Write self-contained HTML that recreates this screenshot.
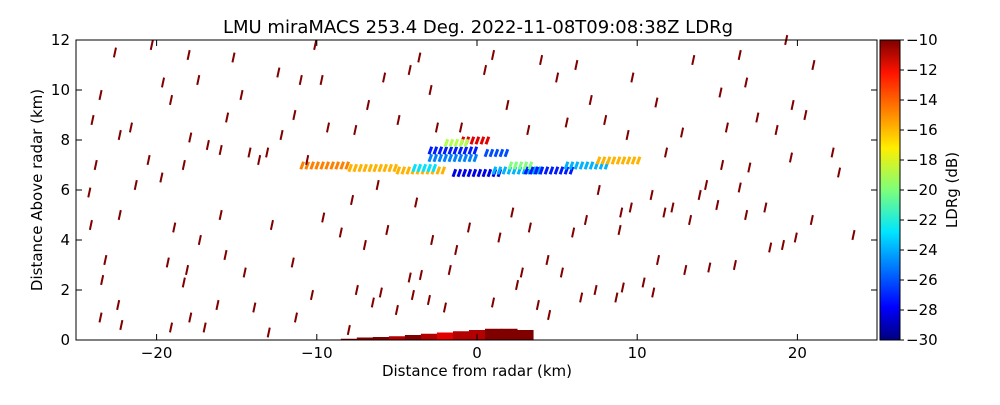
<!DOCTYPE html>
<html><head><meta charset="utf-8"><style>
body{margin:0;background:#fff}
svg text{font-family:"DejaVu Sans","Liberation Sans",sans-serif}
</style></head><body>
<svg id="c" width="1000" height="400" xmlns="http://www.w3.org/2000/svg">
<defs><linearGradient id="jet" x1="0" y1="1" x2="0" y2="0">
<stop offset="0" stop-color="#00007f"/><stop offset="0.11" stop-color="#0000ff"/><stop offset="0.36" stop-color="#00e5ff"/><stop offset="0.5" stop-color="#7dff7a"/><stop offset="0.64" stop-color="#ffee00"/><stop offset="0.89" stop-color="#ff1300"/><stop offset="1" stop-color="#7f0000"/></linearGradient></defs>
<text x="478" y="33" font-size="18" text-anchor="middle">LMU miraMACS 253.4 Deg. 2022-11-08T09:08:38Z  LDRg</text>
<g id="marks"></g>
<rect x="76" y="40" width="801" height="300" fill="none" stroke="#000"/>
<g id="axes"></g>
<rect x="880" y="40" width="20" height="300" fill="url(#jet)" stroke="#000"/>
<text transform="translate(957,190) rotate(-90)" font-size="15" text-anchor="middle">LDRg (dB)</text>
<text x="477" y="376" font-size="15" text-anchor="middle">Distance from radar (km)</text>
<text transform="translate(42,190) rotate(-90)" font-size="15" text-anchor="middle">Distance Above radar  (km)</text>
</svg>
<script>
const xTicks=[-20,-10,0,10,20];
const yTicks=[0,2,4,6,8,10,12];
const cbTicks=[-10,-12,-14,-16,-18,-20,-22,-24,-26,-28,-30];
const clutterX=[-23.5,-24,-22.3,-23.8,-24.2,-22.3,-24.1,-23.2,-23.4,-22.4,-23.5,-22.2,-21.6,-20.3,-19.6,-19.1,-18,-17.4,-18.3,-19.7,-18.9,-19.3,-18.3,-17.9,-17,-16.2,-17.3,-16,-17.9,-16.8,-16,-15.6,-15.2,-14.7,-14.2,-15.7,-14.5,-13.9,-13,-13.6,-13.1,-12.2,-11.4,-12.4,-11,-10.1,-9.7,-9.3,-10.6,-12.8,-11.5,-10.3,-11.3,-9.6,-8.5,-7.8,-7,-7.5,-8,-6.5,-5.6,-6.2,-7.6,-6.8,-4.9,-5.8,-4.2,-3.6,-2.9,-2.5,-1,0.5,1,1.9,3.2,4,5,6.2,7.1,8,9.4,9.7,11.2,11.8,12.8,13.5,15.2,16.8,17.5,18.7,19.7,20.5,21,19.3,16.4,15.6,15.3,16.4,17,19.6,22.2,22.6,14.3,13.9,11.7,12.2,13.3,15,16.8,18,19.1,19.9,20.9,23.5,18.3,16.1,14.5,13,11.3,10.4,11,9.1,8.7,7.4,8.9,9,9.6,10.9,6.8,6,5.3,4.4,3.3,2.8,2.2,1.4,-0.5,-1.3,-2.8,-3.8,-4.2,-3,-1.7,5.6,7.6,-20.5,-21.3,-22.6,-18.1,-19.1,-5,-4,-2,1,2.5,4.5,-6,-3.5,3.8,6.5];
const clutterY=[9.8,8.8,8.2,7,5.9,5,4.6,3.2,2.4,1.4,0.9,0.6,8.5,11.8,10.3,9.6,11.4,10.4,7,6.5,4.5,3.1,2.3,0.9,0.5,1.4,4,5,8.1,7.8,7.6,8.9,11.3,9.8,7.5,3.4,2.7,1.3,0.3,7.2,7.5,8.2,9,10.7,10.4,11.8,10.4,8.5,7.2,4.6,3.1,1.8,0.9,4.9,4.3,5.6,3.8,2,0.4,1.5,4.4,6.2,8.4,9.4,8.8,10.5,10.8,11.3,10,8.5,8.5,10.8,11.4,9.4,8.4,11.2,10.5,11,9.6,8.8,8.2,10.5,9.5,7.5,8.3,11.2,9.9,10.3,8.9,8.4,9.4,9,11,12,11.4,8.5,7,6.1,6.9,7.3,7.5,6.7,6.2,5.8,5.1,5.3,4.8,5.4,5,5.3,3.8,4.1,4.8,4.2,3.7,3,2.9,2.8,3.2,2.3,1.9,2.1,1.7,2,4.4,5.1,5.3,5.8,4.8,4.3,2.7,3.2,4.5,2.7,5.1,4.1,4.5,3.6,4,5.5,2.5,1.6,2.8,8.7,6,7.2,6.2,11.5,2.8,0.5,1.2,1.8,1.3,1.5,2.2,1,1.9,2.6,1.4,1.7];
const layerX0=[-11,-8,-5,-3,-3,-1.5,1,3,5.5,7.5,-1,-2,0.5,-4,2];
const layerX1=[-8,-5,-2,0,0,1.5,4,6,8,10,0.8,-0.5,2,-2.5,3.5];
const layerY=[7.0,6.9,6.8,7.3,7.6,6.7,6.8,6.8,7.0,7.2,8.0,7.9,7.5,6.9,7.0];
const layerV=[-15,-16,-16,-25,-27,-28,-24,-27,-24,-16,-12,-19,-26,-23,-20];
const groundX=[-8.5,-7.5,-6.5,-5.5,-4.5,-3.5,-2.5,-1.5,-0.5,0.5,1.5,2.5];
const groundTop=[0.05,0.1,0.12,0.15,0.2,0.25,0.3,0.35,0.4,0.45,0.45,0.4];
const groundV=[-10,-10,-10,-11,-10,-11,-12,-11,-11,-10,-10,-10];

const NS="http://www.w3.org/2000/svg";
const X=v=>477+v*16.02, Y=v=>340-v*25, CB=v=>40+(-10-v)*15;
function jet(v){let t=(v+30)/20;t=Math.max(0,Math.min(1,t));
 const f=x=>Math.round(255*Math.max(0,Math.min(1,1.5-Math.abs(4*t-x))));
 return `rgb(${f(3)},${f(2)},${f(1)})`;}
function mk(tag,at,p){const e=document.createElementNS(NS,tag);for(const k in at)e.setAttribute(k,at[k]);p.appendChild(e);return e;}
const g=document.getElementById('marks'),ax=document.getElementById('axes');
for(let i=0;i<groundX.length;i++){
 const r=mk('rect',{x:X(groundX[i]),y:Y(groundTop[i]),width:16.5,height:340-Y(groundTop[i]),fill:jet(groundV[i])},g);
 
 
}
for(let i=0;i<layerV.length;i++){
 const x0=X(layerX0[i]),x1=X(layerX1[i]);
 for(let x=x0;x<x1;x+=5){
  const r=mk('rect',{x:x,y:Y(layerY[i])-4,width:3,height:8,fill:jet(layerV[i]),transform:`rotate(20 ${x} ${Y(layerY[i])})`},g);
  
  
 }
}
for(let i=0;i<clutterX.length;i++){
 const cx=X(clutterX[i]),cy=Y(clutterY[i]);
 const r=mk('rect',{x:cx-1,y:cy-5,width:2,height:10,fill:'#800000',transform:`rotate(12 ${cx} ${cy})`},g);
 
 
}
xTicks.forEach(v=>{const x=X(v);
 mk('line',{x1:x,x2:x,y1:340,y2:334,stroke:'#000'},ax);mk('line',{x1:x,x2:x,y1:40,y2:46,stroke:'#000'},ax);
 const t=mk('text',{x:x,y:358,'font-size':15,'text-anchor':'middle'},ax);t.textContent=(v<0?'\u2212':'')+Math.abs(v);
 
 
});
yTicks.forEach(v=>{const y=Y(v);
 mk('line',{x1:76,x2:82,y1:y,y2:y,stroke:'#000'},ax);mk('line',{x1:877,x2:871,y1:y,y2:y,stroke:'#000'},ax);
 const t=mk('text',{x:70,y:y+5,'font-size':15,'text-anchor':'end'},ax);t.textContent=v;
 
 
});
cbTicks.forEach(v=>{const y=CB(v);
 mk('line',{x1:900,x2:904,y1:y,y2:y,stroke:'#000'},ax);
 const t=mk('text',{x:906,y:y+5,'font-size':15},ax);t.textContent='\u2212'+Math.abs(v);
 
 
});
</script>
</body></html>
